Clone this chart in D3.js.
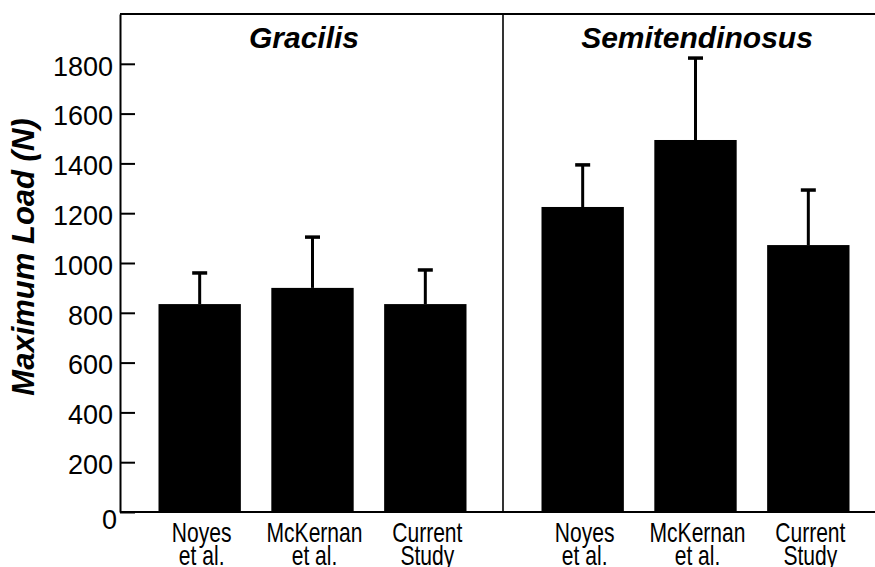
<!DOCTYPE html>
<html>
<head>
<meta charset="utf-8">
<script src="https://d3js.org/d3.v7.min.js"></script>
<style>
  body { margin: 0; background: #fff; }
  svg text { font-family: "Liberation Sans", Arial, Helvetica, sans-serif; fill: #000; }
</style>
</head>
<body>
<svg width="875" height="567"></svg>
<script>
// data
const studies = ["Noyes|et al.", "McKernan|et al.", "Current|Study"];
const muscles = ["Gracilis", "Semitendinosus"];
const gracilisLoad = [835, 900, 835];
const gracilisSD = [125, 204, 137];
const semitendinosusLoad = [1225, 1494, 1072];
const semitendinosusSD = [169, 329, 221];
const yTicks = [0, 200, 400, 600, 800, 1000, 1200, 1400, 1600, 1800];

const loads = [gracilisLoad, semitendinosusLoad];
const sds = [gracilisSD, semitendinosusSD];

const svg = d3.select('svg');

let plotL = 120, divider = 503, plotR = 875, plotT = 14, plotB = 512;

let y = d3.scaleLinear().domain([0, 2000]).range([plotB, plotT]);

let panelLeft = [plotL, divider];

// frame lines
svg.append('line')
  .attr('x1', plotL).attr('x2', plotR).attr('y1', plotT).attr('y2', plotT)
  .attr('stroke', '#000').attr('stroke-width', 2);
svg.append('line')
  .attr('x1', plotL).attr('x2', plotR).attr('y1', plotB).attr('y2', plotB)
  .attr('stroke', '#000').attr('stroke-width', 2);
svg.append('line')
  .attr('x1', divider).attr('x2', divider).attr('y1', plotT).attr('y2', plotB)
  .attr('stroke', '#000').attr('stroke-width', 1.6);

for (let p = 0; p < muscles.length; ++p) {
  let x = d3.scaleBand()
    .domain(studies)
    .range([panelLeft[p] + 38.5, panelLeft[p] + 346.5])
    .paddingInner(0.27)
    .paddingOuter(0);

  let g = svg.append('g');
  let rows = studies.map((s, i) => ({ s, v: loads[p][i], sd: sds[p][i] }));

  g.selectAll('rect.bar')
    .data(rows)
    .join('rect')
    .attr('class', 'bar')
    .attr('x', d => x(d.s))
    .attr('y', d => y(d.v))
    .attr('width', x.bandwidth())
    .attr('height', d => y(0) - y(d.v))
    .attr('fill', '#000');

  // error bars: stem + cap
  g.selectAll('line.stem')
    .data(rows)
    .join('line')
    .attr('class', 'stem')
    .attr('x1', d => x(d.s) + x.bandwidth() / 2)
    .attr('x2', d => x(d.s) + x.bandwidth() / 2)
    .attr('y1', d => y(d.v))
    .attr('y2', d => y(d.v + d.sd))
    .attr('stroke', '#000').attr('stroke-width', 3);
  g.selectAll('line.cap')
    .data(rows)
    .join('line')
    .attr('class', 'cap')
    .attr('x1', d => x(d.s) + x.bandwidth() / 2 - 7.5)
    .attr('x2', d => x(d.s) + x.bandwidth() / 2 + 7.5)
    .attr('y1', d => y(d.v + d.sd))
    .attr('y2', d => y(d.v + d.sd))
    .attr('stroke', '#000').attr('stroke-width', 3.5);

  // category labels, two lines (condensed face)
  let lab = g.selectAll('text.cat')
    .data(studies)
    .join('text')
    .attr('class', 'cat')
    .attr('text-anchor', 'middle')
    .attr('font-size', 27)
    .attr('transform', d => `translate(${x(d) + x.bandwidth() / 2 + 2}, 0) scale(0.78, 1)`);
  lab.append('tspan').attr('x', 0).attr('y', 542).text(d => d.split('|')[0]);
  lab.append('tspan').attr('x', 0).attr('y', 565).text(d => d.split('|')[1]);

  // panel title
  svg.append('text')
    .attr('x', p == 0 ? 304 : 697)
    .attr('y', 48)
    .attr('text-anchor', 'middle')
    .attr('font-size', 30)
    .attr('font-weight', 'bold')
    .attr('font-style', 'italic')
    .text(muscles[p]);
}

// y axis with inward ticks
let ax = svg.append('g')
  .attr('transform', `translate(${plotL}, 0)`)
  .call(d3.axisLeft(y).tickValues(yTicks).tickFormat(d3.format('d'))
    .tickSizeInner(-15).tickSizeOuter(0).tickPadding(7));
ax.select('.domain').attr('stroke-width', 2);
ax.selectAll('.tick line').attr('stroke-width', 2);
ax.selectAll('.tick text')
  .attr('font-size', 27)
  .attr('font-family', '"Liberation Sans", Arial, sans-serif')
  .attr('dy', '0.42em');
ax.selectAll('.tick text').filter(d => d == 0).attr('x', -3).attr('dy', '0.6em');

svg.append('text')
  .attr('transform', 'translate(34, 257) rotate(-90)')
  .attr('text-anchor', 'middle')
  .attr('font-size', 31)
  .attr('font-weight', 'bold')
  .attr('font-style', 'italic')
  .text('Maximum Load (N)');
</script>
</body>
</html>
